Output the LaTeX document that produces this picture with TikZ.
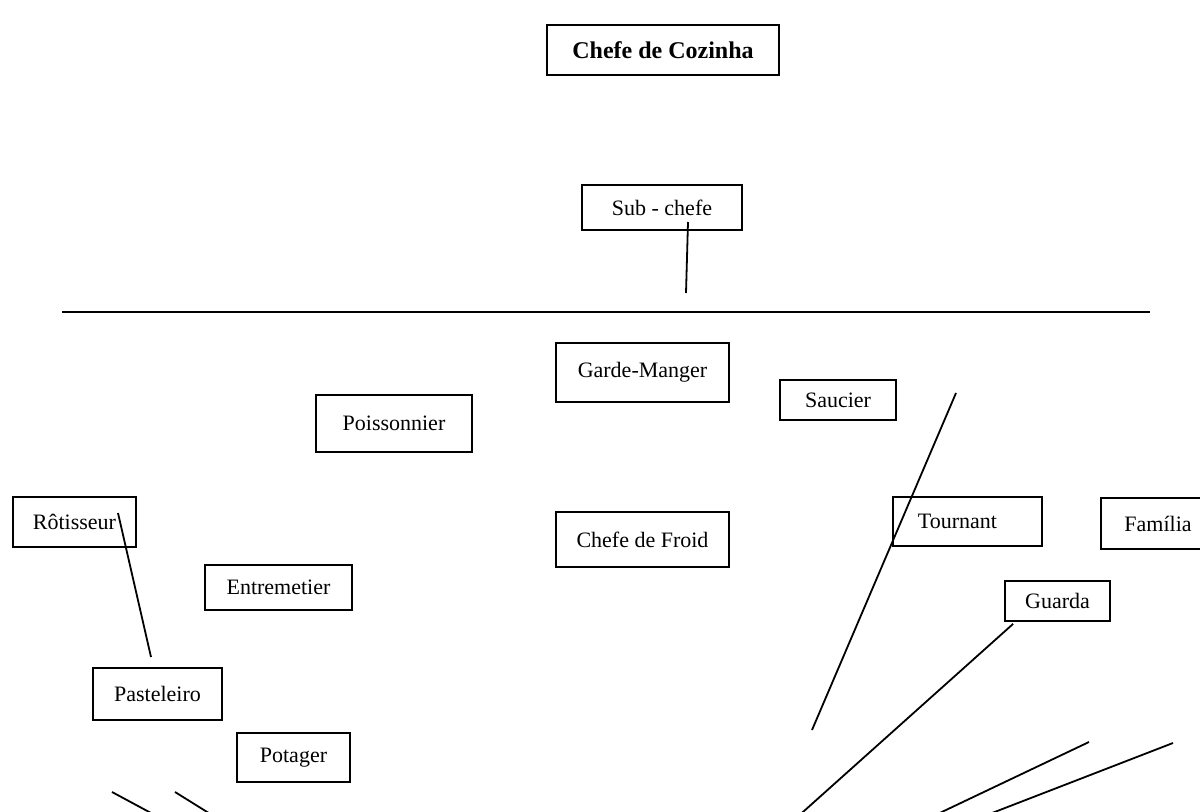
\documentclass[tikz,border=0pt]{standalone}
\usepackage{fontspec}
\setmainfont{Liberation Serif}
\usepackage{tikz}

\begin{document}
\begin{tikzpicture}[x=0.5pt, y=-0.5pt, line width=0.9pt,
    caixa/.style={draw, line width=0.9pt, inner sep=0pt, font=\fontsize{11}{13}\selectfont}]
    \useasboundingbox (0,0) rectangle (1200,812);
    % chefe e sub-chefe
    \node[caixa, line width=1.1pt, minimum width=116pt, minimum height=25pt, font=\fontsize{12}{14}\selectfont\bfseries] (chefe) at (663,50) {Chefe de Cozinha};
    \node[caixa, minimum width=80pt, minimum height=22.5pt] (sub) at (662,207.5) {Sub - chefe};
    % praças
    \node[caixa, minimum width=86.5pt, minimum height=29.5pt] (garde) at (642.5,372.5) {Garde-Manger};
    \node[caixa, minimum width=58pt, minimum height=20pt] (saucier) at (838,400) {Saucier};
    \node[caixa, minimum width=78pt, minimum height=28.5pt] (poisson) at (394,423.5) {Poissonnier};
    \node[caixa, minimum width=61.5pt, minimum height=25pt] (rotis) at (74.5,522) {Rôtisseur};
    \node[caixa, minimum width=86.5pt, minimum height=27.5pt] (froid) at (642.5,539.5) {Chefe de Froid};
    \node[caixa, minimum width=73.5pt, minimum height=22.5pt] (entre) at (278.5,587.5) {Entremetier};
    \node[caixa, minimum width=74.5pt, minimum height=24.5pt] (tourn) at (967.5,521.5) {\hspace*{-10pt}Tournant};
    \node[caixa, minimum width=57pt, minimum height=25.5pt] (familia) at (1158,523.5) {Família};
    \node[caixa, minimum width=52.5pt, minimum height=20pt] (guarda) at (1057.5,601) {Guarda};
    \node[caixa, minimum width=64.5pt, minimum height=26pt] (past) at (157.5,694) {Pasteleiro};
    \node[caixa, minimum width=56.5pt, minimum height=24.5pt] (potager) at (293.5,757.5) {Potager};
    % pontas soltas das linhas
    \coordinate (s1) at (688,222);
    \coordinate (s2) at (686,293);
    \coordinate (h1) at (62,312);
    \coordinate (h2) at (1150,312);
    \coordinate (r1) at (118,513);
    \coordinate (r2) at (151,657);
    \coordinate (t1) at (956,393);
    \coordinate (t2) at (812,730);
    \coordinate (g2) at (794,820);
    \coordinate (a1) at (1089,742);
    \coordinate (a2) at (925,820);
    \coordinate (b1) at (1173,743);
    \coordinate (b2) at (974,820);
    \coordinate (c1) at (112,792);
    \coordinate (c2) at (164,820);
    \coordinate (d1) at (175,792);
    \coordinate (d2) at (220,820);
    % linhas
    \draw (s1) -- (s2);
    \draw (h1) -- (h2);
    \draw (r1) -- (r2);
    \draw (t1) -- (t2);
    \draw ([xshift=4.5pt,yshift=-1pt]guarda.south west) -- (g2);
    \draw (a1) -- (a2);
    \draw (b1) -- (b2);
    \draw (c1) -- (c2);
    \draw (d1) -- (d2);
\end{tikzpicture}
\end{document}
